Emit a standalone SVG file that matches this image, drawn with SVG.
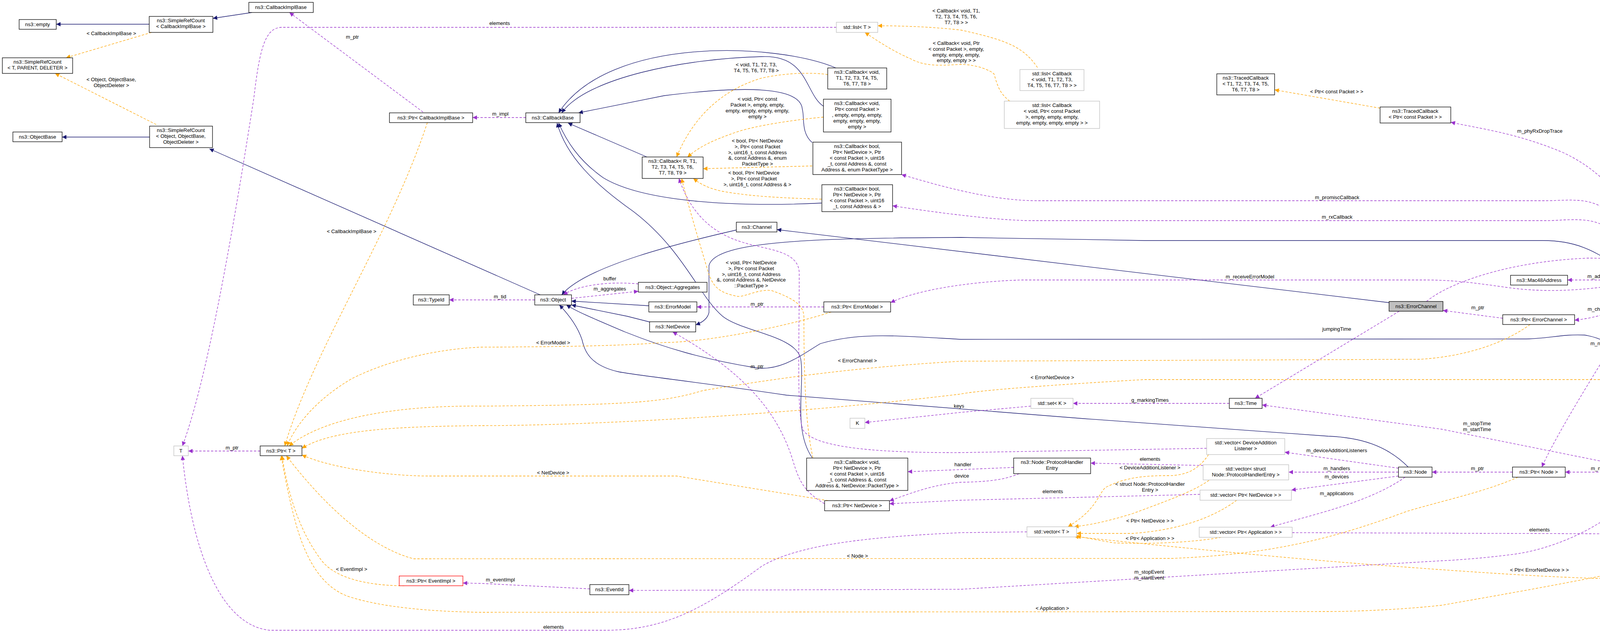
<svg xmlns="http://www.w3.org/2000/svg" width="4912" height="1621" viewBox="0 0 4912 1621">
<style>
text{font-family:"Liberation Sans",Arial,sans-serif;font-size:13px;fill:#000}
.n rect{fill:#fff;stroke:#000;stroke-width:1.3}
.g rect{fill:#fff;stroke:#bfbfbf;stroke-width:1.3}
.r rect{fill:#fff;stroke:#ff0000;stroke-width:1.3}
.f rect{fill:#bfbfbf;stroke:#000;stroke-width:1.3}
.n text,.g text,.r text,.f text{text-anchor:middle}
.i{fill:none;stroke:#191970;stroke-width:1.3;marker-end:url(#ai)}
.u{fill:none;stroke:#9a32cd;stroke-width:1.3;stroke-dasharray:6,4;marker-end:url(#au)}
.t{fill:none;stroke:#ffa500;stroke-width:1.3;stroke-dasharray:6,4;marker-end:url(#at)}
.l text{text-anchor:middle}
</style>
<defs>
<marker id="ai" viewBox="0 0 10 10" refX="10" refY="5" markerWidth="13" markerHeight="11" markerUnits="userSpaceOnUse" orient="auto"><path d="M0,0L10,5L0,10z" fill="#191970"/></marker>
<marker id="au" viewBox="0 0 10 10" refX="10" refY="5" markerWidth="13" markerHeight="11" markerUnits="userSpaceOnUse" orient="auto"><path d="M0,0L10,5L0,10z" fill="#9a32cd"/></marker>
<marker id="at" viewBox="0 0 10 10" refX="10" refY="5" markerWidth="13" markerHeight="11" markerUnits="userSpaceOnUse" orient="auto"><path d="M0,0L10,5L0,10z" fill="#ffa500"/></marker>
</defs>
<rect width="4912" height="1621" fill="#fff"/>
<g id="edges">
<path class="i" d="M382,62L144,62"/>
<path class="i" d="M645,32L545,47"/>
<path class="i" d="M383,351L159,351"/>
<path class="i" d="M1383,755L536,381"/>
<path class="i" d="M2140,174C1990,110 1560,90 1430,289"/>
<path class="i" d="M2108,272C2060,240 2070,140 1950,145C1750,150 1500,200 1438,289"/>
<path class="i" d="M2079,365C2050,340 2060,300 2054,280C2050,220 1900,220 1700,245L1481,289"/>
<path class="i" d="M1656,402L1454,315"/>
<path class="i" d="M2103,520C1900,530 1650,520 1544,455C1480,410 1450,360 1430,315"/>
<path class="i" d="M2079,1172C2030,1100 2060,990 2050,920C2040,860 1900,850 1850,810C1790,760 1750,640 1622,542C1520,470 1450,400 1426,315"/>
<path class="i" d="M1661,783L1463,771"/>
<path class="i" d="M1665,825L1606,810L1463,781"/>
<path class="i" d="M1885,589C1750,620 1500,680 1438,755"/>
<path class="i" d="M3556,775L1989,588"/>
<path class="i" d="M4181,704C4100,660 4060,616 3950,616L2930,616L2460,608C2100,610 1830,615 1815,680L1815,800C1812,815 1800,825 1781,832"/>
<path class="i" d="M4231,1196C4230,1050 4200,880 4056,858C4000,855 3960,868 3900,868L2460,869C2300,860 2200,850 2100,880C2050,910 2000,950 1936,942C1800,920 1700,890 1600,850C1530,820 1480,800 1450,781"/>
<path class="i" d="M3605,1196C3550,1140 3480,1120 3400,1117L2774,1072L2014,1012C1800,980 1620,960 1583,952C1510,935 1497,900 1490,870C1480,840 1460,810 1432,781"/>
<path class="u" d="M1083,287L741,32"/>
<path class="u" d="M1346,301L1210,301"/>
<path class="u" d="M2141,70L720,70C680,72 665,120 650,250C580,700 520,1000 467,1142"/>
<path class="u" d="M666,1155L482,1155"/>
<path class="u" d="M2629,1362L2460,1364C2250,1374 2050,1390 1950,1450C1800,1560 1700,1614 1550,1614L690,1614C560,1600 490,1400 467,1167"/>
<path class="u" d="M1369,768L1150,768"/>
<path class="u" d="M1463,764L1634,746"/>
<path class="u" d="M1634,727C1560,720 1480,730 1442,755"/>
<path class="u" d="M2109,786L1784,786"/>
<path class="u" d="M4158,727C4050,745 3950,750 3850,735C3780,725 3720,717 3650,717L2617,717C2500,720 2350,740 2280,775"/>
<path class="u" d="M3652,772C3700,730 3850,670 4064,661C4300,660 4600,780 4765,877"/>
<path class="u" d="M3582,797L3213,1020"/>
<path class="u" d="M4158,717L4013,717"/>
<path class="u" d="M4228,705C4200,560 4130,450 4000,390C3880,340 3790,330 3714,313"/>
<path class="u" d="M4165,705C4140,650 4150,560 4100,530C4060,505 4000,514 3960,514L2656,514C2560,514 2450,490 2308,447"/>
<path class="u" d="M4158,705C4140,680 4150,600 4100,575C4060,555 4000,565 3960,565L2640,565C2560,565 2400,545 2285,527"/>
<path class="u" d="M4215,730C4180,780 4120,810 4031,820"/>
<path class="u" d="M4222,730C4150,850 4000,1080 3947,1196"/>
<path class="u" d="M3847,815L3694,795"/>
<path class="u" d="M4477,885L4259,730"/>
<path class="u" d="M4715,897L4599,897"/>
<path class="u" d="M3580,1199L3289,1158"/>
<path class="u" d="M3580,1209L3299,1209"/>
<path class="u" d="M3580,1219L3306,1255"/>
<path class="u" d="M3597,1222C3500,1290 3350,1320 3252,1350"/>
<path class="u" d="M3089,1148L2460,1159C2200,1160 2080,1140 2055,1100C2040,1050 2046,900 2046,700C2046,640 1960,640 1900,620C1800,590 1760,520 1738,457"/>
<path class="u" d="M3080,1192L2792,1186"/>
<path class="u" d="M3072,1266L2460,1281L2277,1290"/>
<path class="u" d="M2595,1197L2324,1208"/>
<path class="u" d="M2609,1213C2570,1230 2520,1234 2460,1235C2400,1240 2350,1255 2277,1283"/>
<path class="u" d="M2111,1290C2060,1260 2046,1234 2030,1180C1990,1050 1900,950 1722,850"/>
<path class="u" d="M3147,1033L2747,1033"/>
<path class="u" d="M2639,1040L2460,1056L2214,1082"/>
<path class="u" d="M4174,1196L3690,1099L3231,1037"/>
<path class="u" d="M4172,1209L4007,1209"/>
<path class="u" d="M3872,1209L3666,1209"/>
<path class="u" d="M4477,1355L4263,1222"/>
<path class="u" d="M3308,1364L4415,1368"/>
<path class="u" d="M4220,1222C4150,1330 4000,1400 3885,1418C3800,1430 3700,1436 3690,1436L2460,1509L1610,1512"/>
<path class="u" d="M1510,1508L1230,1494L1185,1493"/>
<path class="t" d="M388,83L169,148"/>
<path class="t" d="M400,319L141,188"/>
<path class="t" d="M1094,314C1000,600 800,900 729,1142"/>
<path class="t" d="M2128,799C2000,840 1800,877 1701,877C1600,885 1465,888 1230,889C1100,895 981,929 900,970C820,1017 760,1080 735,1142"/>
<path class="t" d="M3917,831C3850,880 3750,913 3636,920L2460,925C2200,940 2014,965 1800,1000C1700,1030 1622,1037 1230,1040C1000,1038 824,1074 740,1142"/>
<path class="t" d="M4465,910C4400,950 4300,972 4251,972L2930,972C2700,985 2500,1000 2460,1009C2014,1063 1500,1090 1230,1090C1019,1092 850,1100 773,1148"/>
<path class="t" d="M2120,1282L1732,1219L1098,1219C1000,1219 850,1200 773,1165"/>
<path class="t" d="M3886,1222C3800,1260 3700,1280 3600,1310C3401,1384 3244,1420 3000,1430L1059,1431C941,1400 824,1286 733,1167"/>
<path class="t" d="M1035,1500C980,1500 863,1493 820,1431C760,1350 735,1250 722,1167"/>
<path class="t" d="M4462,1380C4300,1440 4080,1482 3690,1550C3600,1560 3479,1566 3400,1566L1230,1568C1100,1566 981,1555 900,1530C824,1508 784,1431 760,1350C740,1280 725,1200 720,1167"/>
<path class="t" d="M2119,191C2080,185 2014,186 1950,200C1858,227 1779,289 1732,402"/>
<path class="t" d="M2108,300C2050,305 1936,320 1880,340C1830,358 1795,372 1760,402"/>
<path class="t" d="M2079,425L1800,432"/>
<path class="t" d="M2103,510C2050,508 1936,506 1850,490C1800,480 1779,460 1775,457"/>
<path class="t" d="M2081,1172C2065,1100 2058,1000 2058,810C2056,790 2050,770 1975,744C1940,740 1910,760 1889,759C1840,750 1826,734 1814,700C1790,620 1760,520 1745,457"/>
<path class="t" d="M2656,173C2620,120 2578,103 2460,77C2380,68 2300,66 2247,66"/>
<path class="t" d="M2585,259C2560,240 2554,222 2545,190C2538,181 2500,165 2460,165C2400,168 2367,170 2330,150C2281,129 2240,100 2214,83"/>
<path class="t" d="M3533,277L3263,230"/>
<path class="t" d="M3094,1164C3070,1200 3040,1218 2990,1218C2930,1218 2880,1222 2829,1249C2810,1270 2805,1306 2734,1349"/>
<path class="t" d="M3095,1230C3060,1255 3009,1275 2900,1315C2820,1340 2780,1345 2750,1349"/>
<path class="t" d="M3166,1281C3100,1330 3009,1358 2900,1366L2756,1366"/>
<path class="t" d="M3126,1376C3050,1390 2930,1394 2850,1390L2756,1373"/>
<path class="t" d="M4808,917C4800,1050 4780,1150 4773,1172C4740,1320 4664,1431 4600,1470C4547,1481 4300,1481 4080,1481C3900,1475 3690,1459 3500,1445C3244,1425 3000,1400 2750,1374"/>
</g>
<g class="l">
<text x="902" y="99">m_ptr</text>
<text x="1281" y="296">m_impl</text>
<text x="1279" y="64">elements</text>
<text x="594" y="1151">m_ptr</text>
<text x="1417" y="1610">elements</text>
<text x="1280" y="764">m_tid</text>
<text x="1561" y="744">m_aggregates</text>
<text x="1561" y="718">buffer</text>
<text x="1938" y="783">m_ptr</text>
<text x="3200" y="713">m_receiveErrorModel</text>
<text x="4234" y="663">m_devices</text>
<text x="3422" y="847">jumpingTime</text>
<text x="4096" y="712">m_address</text>
<text x="3942" y="340">m_phyRxDropTrace</text>
<text x="3423" y="510">m_promiscCallback</text>
<text x="3423" y="560">m_rxCallback</text>
<text x="4096" y="796">m_channel</text>
<text x="4095" y="884">m_node</text>
<text x="3783" y="792">m_ptr</text>
<text x="4356" y="780">m_ptr</text>
<text x="4659" y="893">elements</text>
<text x="3422" y="1158">m_deviceAdditionListeners</text>
<text x="3422" y="1204">m_handlers</text>
<text x="3422" y="1225">m_devices</text>
<text x="3422" y="1268">m_applications</text>
<text x="2944" y="1180">elements</text>
<text x="2695" y="1263">elements</text>
<text x="2465" y="1194">handler</text>
<text x="2462" y="1223">device</text>
<text x="1938" y="943">m_ptr</text>
<text x="2944" y="1029">g_markingTimes</text>
<text x="2455" y="1044">keys</text>
<text x="3781" y="1089">m_stopTime</text>
<text x="3781" y="1104">m_startTime</text>
<text x="4096" y="1204">m_node</text>
<text x="3782" y="1204">m_ptr</text>
<text x="4356" y="1265">m_ptr</text>
<text x="3941" y="1361">elements</text>
<text x="2942" y="1469">m_stopEvent</text>
<text x="2942" y="1484">m_startEvent</text>
<text x="1281" y="1489">m_eventImpl</text>
<text x="285" y="90">&lt; CallbackImplBase &gt;</text>
<text x="285" y="208">&lt; Object, ObjectBase,</text>
<text x="285" y="223">ObjectDeleter &gt;</text>
<text x="900" y="597">&lt; CallbackImplBase &gt;</text>
<text x="1416" y="882">&lt; ErrorModel &gt;</text>
<text x="2195" y="928">&lt; ErrorChannel &gt;</text>
<text x="2694" y="971">&lt; ErrorNetDevice &gt;</text>
<text x="1416" y="1215">&lt; NetDevice &gt;</text>
<text x="2195" y="1428">&lt; Node &gt;</text>
<text x="900" y="1462">&lt; EventImpl &gt;</text>
<text x="2694" y="1562">&lt; Application &gt;</text>
<text x="1936" y="170">&lt; void, T1, T2, T3,</text>
<text x="1936" y="185">T4, T5, T6, T7, T8 &gt;</text>
<text x="1939" y="258">&lt; void, Ptr&lt; const</text>
<text x="1939" y="273">Packet &gt;, empty, empty,</text>
<text x="1939" y="288">empty, empty, empty, empty,</text>
<text x="1939" y="303">empty &gt;</text>
<text x="1939" y="365">&lt; bool, Ptr&lt; NetDevice</text>
<text x="1939" y="380">&gt;, Ptr&lt; const Packet</text>
<text x="1939" y="395">&gt;, uint16_t, const Address</text>
<text x="1939" y="409">&amp;, const Address &amp;, enum</text>
<text x="1939" y="424">PacketType &gt;</text>
<text x="1930" y="447">&lt; bool, Ptr&lt; NetDevice</text>
<text x="1930" y="462">&gt;, Ptr&lt; const Packet</text>
<text x="1939" y="477">&gt;, uint16_t, const Address &amp; &gt;</text>
<text x="1923" y="677">&lt; void, Ptr&lt; NetDevice</text>
<text x="1923" y="692">&gt;, Ptr&lt; const Packet</text>
<text x="1923" y="707">&gt;, uint16_t, const Address</text>
<text x="1923" y="721">&amp;, const Address &amp;, NetDevice</text>
<text x="1923" y="736">::PacketType &gt;</text>
<text x="2448" y="32">&lt; Callback&lt; void, T1,</text>
<text x="2448" y="47">T2, T3, T4, T5, T6,</text>
<text x="2448" y="62">T7, T8 &gt; &gt;</text>
<text x="2448" y="115">&lt; Callback&lt; void, Ptr</text>
<text x="2448" y="130">&lt; const Packet &gt;, empty,</text>
<text x="2448" y="145">empty, empty, empty,</text>
<text x="2448" y="159">empty, empty &gt; &gt;</text>
<text x="3422" y="239">&lt; Ptr&lt; const Packet &gt; &gt;</text>
<text x="2944" y="1202">&lt; DeviceAdditionListener &gt;</text>
<text x="2944" y="1244">&lt; struct Node::ProtocolHandler</text>
<text x="2944" y="1259">Entry &gt;</text>
<text x="2944" y="1338">&lt; Ptr&lt; NetDevice &gt; &gt;</text>
<text x="2944" y="1383">&lt; Ptr&lt; Application &gt; &gt;</text>
<text x="3941" y="1464">&lt; Ptr&lt; ErrorNetDevice &gt; &gt;</text>
</g>
<g id="n_cib" class="n"><rect x="637" y="6" width="165" height="26"/><text x="719" y="23">ns3::CallbackImplBase</text></g>
<g id="n_src_cib" class="n"><rect x="382" y="42" width="163" height="41"/><text x="463" y="57">ns3::SimpleRefCount</text><text x="463" y="72">&lt; CallbackImplBase &gt;</text></g>
<g id="n_empty" class="n"><rect x="49" y="50" width="95" height="25"/><text x="96" y="67">ns3::empty</text></g>
<g id="n_src_t" class="n"><rect x="6" y="148" width="180" height="40"/><text x="96" y="163">ns3::SimpleRefCount</text><text x="96" y="178">&lt; T, PARENT, DELETER &gt;</text></g>
<g id="n_objbase" class="n"><rect x="33" y="338" width="126" height="25"/><text x="96" y="355">ns3::ObjectBase</text></g>
<g id="n_src_obj" class="n"><rect x="383" y="323" width="161" height="55"/><text x="463" y="338">ns3::SimpleRefCount</text><text x="463" y="353">&lt; Object, ObjectBase,</text><text x="463" y="368">ObjectDeleter &gt;</text></g>
<g id="n_ptr_cib" class="n"><rect x="997" y="289" width="213" height="25"/><text x="1103" y="306">ns3::Ptr&lt; CallbackImplBase &gt;</text></g>
<g id="n_typeid" class="n"><rect x="1058" y="755" width="92" height="26"/><text x="1104" y="772">ns3::TypeId</text></g>
<g id="n_listT" class="g"><rect x="2141" y="57" width="106" height="26"/><text x="2194" y="74">std::list&lt; T &gt;</text></g>
<g id="n_cbbase" class="n"><rect x="1346" y="289" width="139" height="25"/><text x="1415" y="306">ns3::CallbackBase</text></g>
<g id="n_cb_void8" class="n"><rect x="2119" y="174" width="151" height="54"/><text x="2194" y="189">ns3::Callback&lt; void,</text><text x="2194" y="204">T1, T2, T3, T4, T5,</text><text x="2194" y="219">T6, T7, T8 &gt;</text></g>
<g id="n_cb_voidpkt" class="n"><rect x="2108" y="254" width="173" height="84"/><text x="2194" y="269">ns3::Callback&lt; void,</text><text x="2194" y="284">Ptr&lt; const Packet &gt;</text><text x="2194" y="299">, empty, empty, empty,</text><text x="2194" y="314">empty, empty, empty,</text><text x="2194" y="329">empty &gt;</text></g>
<g id="n_cb_R" class="n"><rect x="1644" y="402" width="156" height="55"/><text x="1722" y="417">ns3::Callback&lt; R, T1,</text><text x="1722" y="432">T2, T3, T4, T5, T6,</text><text x="1722" y="447">T7, T8, T9 &gt;</text></g>
<g id="n_cb_bool5" class="n"><rect x="2081" y="364" width="227" height="83"/><text x="2194" y="379">ns3::Callback&lt; bool,</text><text x="2194" y="394">Ptr&lt; NetDevice &gt;, Ptr</text><text x="2194" y="409">&lt; const Packet &gt;, uint16</text><text x="2194" y="424">_t, const Address &amp;, const</text><text x="2194" y="439">Address &amp;, enum PacketType &gt;</text></g>
<g id="n_cb_bool4" class="n"><rect x="2104" y="473" width="181" height="69"/><text x="2194" y="488">ns3::Callback&lt; bool,</text><text x="2194" y="503">Ptr&lt; NetDevice &gt;, Ptr</text><text x="2194" y="518">&lt; const Packet &gt;, uint16</text><text x="2194" y="533">_t, const Address &amp; &gt;</text></g>
<g id="n_channel" class="n"><rect x="1885" y="569" width="104" height="25"/><text x="1937" y="586">ns3::Channel</text></g>
<g id="n_aggr" class="n"><rect x="1634" y="723" width="176" height="25"/><text x="1722" y="740">ns3::Object::Aggregates</text></g>
<g id="n_object" class="n"><rect x="1369" y="755" width="94" height="26"/><text x="1416" y="772">ns3::Object</text></g>
<g id="n_errmodel" class="n"><rect x="1661" y="773" width="123" height="26"/><text x="1722" y="790">ns3::ErrorModel</text></g>
<g id="n_ptr_errmodel" class="n"><rect x="2109" y="773" width="171" height="26"/><text x="2194" y="790">ns3::Ptr&lt; ErrorModel &gt;</text></g>
<g id="n_list_cb8" class="g"><rect x="2611" y="178" width="164" height="54"/><text x="2693" y="193">std::list&lt; Callback</text><text x="2693" y="208">&lt; void, T1, T2, T3,</text><text x="2693" y="223">T4, T5, T6, T7, T8 &gt; &gt;</text></g>
<g id="n_list_cbpkt" class="g"><rect x="2571" y="259" width="244" height="70"/><text x="2693" y="274">std::list&lt; Callback</text><text x="2693" y="289">&lt; void, Ptr&lt; const Packet</text><text x="2693" y="304">&gt;, empty, empty, empty,</text><text x="2693" y="319">empty, empty, empty, empty &gt; &gt;</text></g>
<g id="n_tc8" class="n"><rect x="3115" y="189" width="148" height="54"/><text x="3189" y="204">ns3::TracedCallback</text><text x="3189" y="219">&lt; T1, T2, T3, T4, T5,</text><text x="3189" y="234">T6, T7, T8 &gt;</text></g>
<g id="n_tcpkt" class="n"><rect x="3533" y="274" width="181" height="41"/><text x="3623" y="289">ns3::TracedCallback</text><text x="3623" y="304">&lt; Ptr&lt; const Packet &gt; &gt;</text></g>
<g id="n_errchan" class="f"><rect x="3556" y="772" width="138" height="25"/><text x="3625" y="789">ns3::ErrorChannel</text></g>
<g id="n_mac" class="n"><rect x="3867" y="705" width="146" height="25"/><text x="3940" y="722">ns3::Mac48Address</text></g>
<g id="n_errnd" class="n"><rect x="4158" y="705" width="150" height="25"/><text x="4233" y="722">ns3::ErrorNetDevice</text></g>
<g id="n_ptr_errchan" class="n"><rect x="3847" y="806" width="184" height="25"/><text x="3939" y="823">ns3::Ptr&lt; ErrorChannel &gt;</text></g>
<g id="n_ptr_errnd" class="n"><rect x="4401" y="885" width="198" height="25"/><text x="4500" y="902">ns3::Ptr&lt; ErrorNetDevice &gt;</text></g>
<g id="n_vec_errnd" class="g"><rect x="4715" y="877" width="191" height="40"/><text x="4810" y="892">std::vector&lt; Ptr&lt; ErrorNet</text><text x="4810" y="907">Device &gt; &gt;</text></g>
<g id="n_ptr_node" class="n"><rect x="3872" y="1196" width="135" height="26"/><text x="3939" y="1213">ns3::Ptr&lt; Node &gt;</text></g>
<g id="n_app" class="n"><rect x="4172" y="1196" width="122" height="26"/><text x="4233" y="1213">ns3::Application</text></g>
<g id="n_ptr_app" class="n"><rect x="4415" y="1355" width="170" height="25"/><text x="4500" y="1372">ns3::Ptr&lt; Application &gt;</text></g>
<g id="n_T" class="g"><rect x="445" y="1142" width="37" height="25"/><text x="463" y="1159">T</text></g>
<g id="n_ptrT" class="n"><rect x="666" y="1142" width="107" height="25"/><text x="719" y="1159">ns3::Ptr&lt; T &gt;</text></g>
<g id="n_ptr_evimpl" class="r"><rect x="1022" y="1475" width="163" height="25"/><text x="1103" y="1492">ns3::Ptr&lt; EventImpl &gt;</text></g>
<g id="n_netdev" class="n"><rect x="1663" y="824" width="118" height="26"/><text x="1722" y="841">ns3::NetDevice</text></g>
<g id="n_K" class="g"><rect x="2176" y="1071" width="38" height="26"/><text x="2195" y="1088">K</text></g>
<g id="n_cb_void_nd" class="n"><rect x="2065" y="1173" width="259" height="83"/><text x="2194" y="1188">ns3::Callback&lt; void,</text><text x="2194" y="1203">Ptr&lt; NetDevice &gt;, Ptr</text><text x="2194" y="1218">&lt; const Packet &gt;, uint16</text><text x="2194" y="1233">_t, const Address &amp;, const</text><text x="2194" y="1248">Address &amp;, NetDevice::PacketType &gt;</text></g>
<g id="n_ptr_nd" class="n"><rect x="2111" y="1282" width="166" height="26"/><text x="2194" y="1299">ns3::Ptr&lt; NetDevice &gt;</text></g>
<g id="n_eventid" class="n"><rect x="1510" y="1497" width="100" height="26"/><text x="1560" y="1514">ns3::EventId</text></g>
<g id="n_setK" class="g"><rect x="2639" y="1020" width="108" height="26"/><text x="2693" y="1037">std::set&lt; K &gt;</text></g>
<g id="n_time" class="n"><rect x="3147" y="1020" width="84" height="26"/><text x="3189" y="1037">ns3::Time</text></g>
<g id="n_vec_dal" class="g"><rect x="3089" y="1123" width="200" height="41"/><text x="3189" y="1138">std::vector&lt; DeviceAddition</text><text x="3189" y="1153">Listener &gt;</text></g>
<g id="n_phe" class="n"><rect x="2595" y="1173" width="197" height="40"/><text x="2693" y="1188">ns3::Node::ProtocolHandler</text><text x="2693" y="1203">Entry</text></g>
<g id="n_vec_phe" class="g"><rect x="3080" y="1190" width="219" height="39"/><text x="3189" y="1205">std::vector&lt; struct</text><text x="3189" y="1220">Node::ProtocolHandlerEntry &gt;</text></g>
<g id="n_vec_pnd" class="g"><rect x="3072" y="1255" width="234" height="26"/><text x="3189" y="1272">std::vector&lt; Ptr&lt; NetDevice &gt; &gt;</text></g>
<g id="n_node" class="n"><rect x="3580" y="1196" width="86" height="26"/><text x="3623" y="1213">ns3::Node</text></g>
<g id="n_vecT" class="g"><rect x="2629" y="1349" width="127" height="26"/><text x="2692" y="1366">std::vector&lt; T &gt;</text></g>
<g id="n_vec_papp" class="g"><rect x="3070" y="1350" width="238" height="26"/><text x="3189" y="1367">std::vector&lt; Ptr&lt; Application &gt; &gt;</text></g>
</svg>
